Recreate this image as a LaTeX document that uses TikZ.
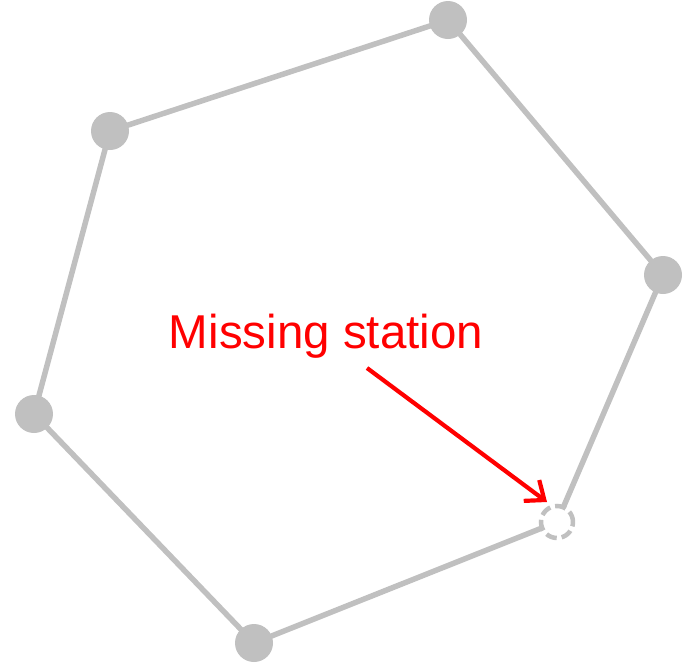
\documentclass[tikz,border=0pt]{standalone}
\usepackage{fontspec}
\setmainfont{Liberation Sans}
\usetikzlibrary{arrows.meta}
\definecolor{stgray}{RGB}{192,192,192}
\begin{document}
\begin{tikzpicture}[x=1pt,y=-1pt,
  station/.style={circle,fill=stgray,minimum size=38pt,inner sep=0pt},
  missing/.style={circle,draw=stgray,dash pattern=on 11pt off 5pt,line width=4.5pt,minimum size=32pt,inner sep=0pt},
  link/.style={draw=stgray,line width=5.5pt},
  lbl/.style={text=red,font=\fontsize{47.5}{52}\selectfont,inner sep=0pt,anchor=base},
  pointer/.style={draw=red,line width=4.2pt,-{Straight Barb[length=16pt,width=26pt,line width=4.2pt]}}]
\useasboundingbox (0,0) rectangle (688,665);
\coordinate (a) at (448,20);
\coordinate (b) at (110,131);
\coordinate (c) at (663,275);
\coordinate (d) at (34,414);
\coordinate (e) at (254,643);
\coordinate (f) at (557,522);
\path[link] (b) -- (a) -- (c) -- (f) -- (e) -- (d) -- cycle;
\node[station] (na) at (a) {};
\node[station] (nb) at (b) {};
\node[station] (nc) at (c) {};
\node[station] (nd) at (d) {};
\node[station] (ne) at (e) {};
\node[missing,fill=white] (nf) at (f) {};
\node[lbl] (t) at (326,348) {Missing station};
\coordinate (s) at (367,368);
\coordinate (p) at (547,502);
\draw[pointer] (s) -- (p);
\end{tikzpicture}
\end{document}
